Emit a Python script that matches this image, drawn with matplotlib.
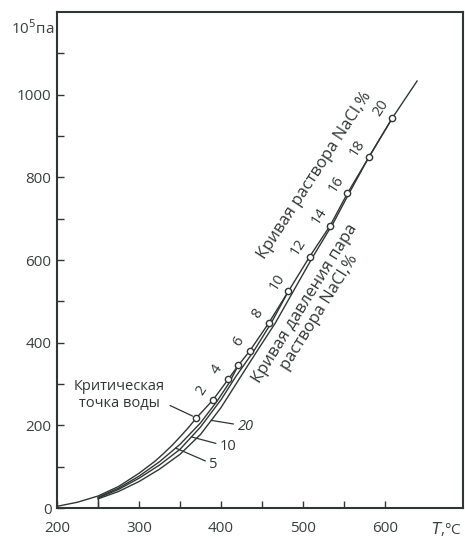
import matplotlib.pyplot as plt

plt.rcParams['font.family'] = ['Open Sans', 'DejaVu Sans']

# P-T diagram of the NaCl - H2O system
####################################################################################################
# data
####################################################################################################
# water vapour pressure curve up to the critical point of water
water_T = [200, 225, 250, 275, 300, 320, 330, 340, 350, 360, 370]
water_P = [4, 14, 29, 52, 84, 114, 132, 151, 172, 194, 218]

# critical curve of NaCl solutions, points marked with NaCl wt.%
crit_T = [370, 390, 409, 421, 435, 458, 482, 508, 533, 554, 580, 609]
crit_P = [218, 261, 312, 345, 380, 447, 524, 608, 683, 761, 848, 944]
crit_conc = [0, 2, 4, 5, 6, 8, 10, 12, 14, 16, 18, 20]
crit_labelled = [2, 4, 6, 8, 10, 12, 14, 16, 18, 20]
crit_end_T = 639
crit_end_P = 1033

# vapour pressure curves of 5, 10 and 20 % NaCl solutions
sol5_T = [250, 275, 300, 325, 350, 375, 395, 410, 421]
sol5_P = [26, 48, 77, 112, 154, 206, 258, 303, 345]
sol10_T = [250, 275, 300, 325, 350, 375, 400, 418, 440, 461, 482]
sol10_P = [24, 45, 72, 104, 142, 196, 262, 318, 380, 447, 524]
sol20_T = [250, 275, 300, 325, 350, 375, 400, 425, 445, 466, 488, 512, 537, 556, 580, 609]
sol20_P = [22, 40, 64, 94, 130, 178, 243, 321, 383, 447, 524, 608, 690, 761, 848, 944]
sol_names = ['5', '10', '20']
sol_tip_P = [145, 172, 212]          # where the leader lines touch the curves
sol_label_T = [391, 409, 430]
sol_label_P = [106, 150, 198]

x_ticks = [200, 300, 400, 500, 600]
x_minor = [250, 350, 450, 550]
y_ticks = [0, 200, 400, 600, 800, 1000]
y_minor = [100, 300, 500, 700, 900, 1100]

####################################################################################################
# plot
####################################################################################################
ink = '#2f3733'
fig = plt.figure(figsize=(4.65, 5.40), dpi=100)
ax = fig.add_axes([57 / 465, 32 / 540, 406 / 465, 496 / 540])
ax.set_xlim(200, 695)
ax.set_ylim(0, 1200)

lw = 1.0
ax.plot(water_T, water_P, color=ink, lw=lw)
ax.plot(crit_T + [crit_end_T], crit_P + [crit_end_P], color=ink, lw=lw)
sol_T = [sol5_T, sol10_T, sol20_T]
sol_P = [sol5_P, sol10_P, sol20_P]
for T, P in zip(sol_T, sol_P):
	ax.plot(T, P, color=ink, lw=lw)
# the solution curves start at 250 C
ax.plot([sol20_T[0], sol20_T[0]], [0, sol20_P[0]], color=ink, lw=lw)

ax.plot(crit_T, crit_P, 'o', ms=4.5, mfc='white', mec=ink, mew=1.0, zorder=5)

for T, P, c in zip(crit_T, crit_P, crit_conc):
	if c in crit_labelled:
		ax.annotate(str(c), xy=(T, P), xytext=(-8, 7), textcoords='offset points',
					ha='center', va='center', rotation=57, fontsize=10.5, color=ink)

# labels 5, 10, 20 with leader lines
for name, T, P, tipP, lT, lP in zip(sol_names, sol_T, sol_P, sol_tip_P, sol_label_T, sol_label_P):
	tipT = None
	for k in range(len(P) - 1):
		if P[k] <= tipP <= P[k + 1]:
			tipT = T[k] + (tipP - P[k]) * (T[k + 1] - T[k]) / (P[k + 1] - P[k])
			break
	ax.annotate(name, xy=(tipT, tipP), xytext=(lT, lP), ha='center', va='center',
				fontsize=10.5, color=ink, style='italic' if name == '20' else 'normal',
				arrowprops=dict(arrowstyle='-', color=ink, lw=0.9, relpos=(0, 0.6),
								shrinkA=1, shrinkB=0))

ax.annotate('Критическая\nточка воды', xy=(crit_T[0], crit_P[0]), xytext=(276, 273),
			ha='center', va='center', fontsize=10.5, color=ink, linespacing=1.15,
			arrowprops=dict(arrowstyle='-', color=ink, lw=0.9, relpos=(1.0, 0.25),
							shrinkA=2, shrinkB=3))

ax.text(514, 804, 'Кривая раствора NaCl,%', rotation=57, rotation_mode='anchor',
		ha='center', va='center', fontsize=12, color=ink)
ax.text(511, 485, 'Кривая давления пара\nраствора NaCl,%', rotation=58, rotation_mode='anchor',
		ha='center', va='center', fontsize=12, color=ink, linespacing=1.05, multialignment='center')

# axes
ax.set_xticks(x_ticks)
ax.set_xticks(x_minor, minor=True)
ax.set_yticks(y_ticks)
ax.set_yticks(y_minor, minor=True)
ax.tick_params(which='both', direction='in', length=5, width=1, color=ink,
			   labelsize=11, labelcolor='#3a403c')
ax.tick_params(axis='x', pad=9)
ax.tick_params(axis='y', pad=4)
for s in ax.spines.values():
	s.set_linewidth(1.5)
	s.set_color(ink)

ax.annotate('10$^5$па', xy=(-0.06, 1160), xycoords=('axes fraction', 'data'),
			ha='center', va='center', fontsize=11, color='#3a403c', annotation_clip=False)
ax.annotate('$T$,°C', xy=(675, -0.042), xycoords=('data', 'axes fraction'),
			ha='center', va='center', fontsize=11, color='#3a403c', annotation_clip=False)

fig.savefig('out.png', dpi=100, facecolor='white')
plt.close()
